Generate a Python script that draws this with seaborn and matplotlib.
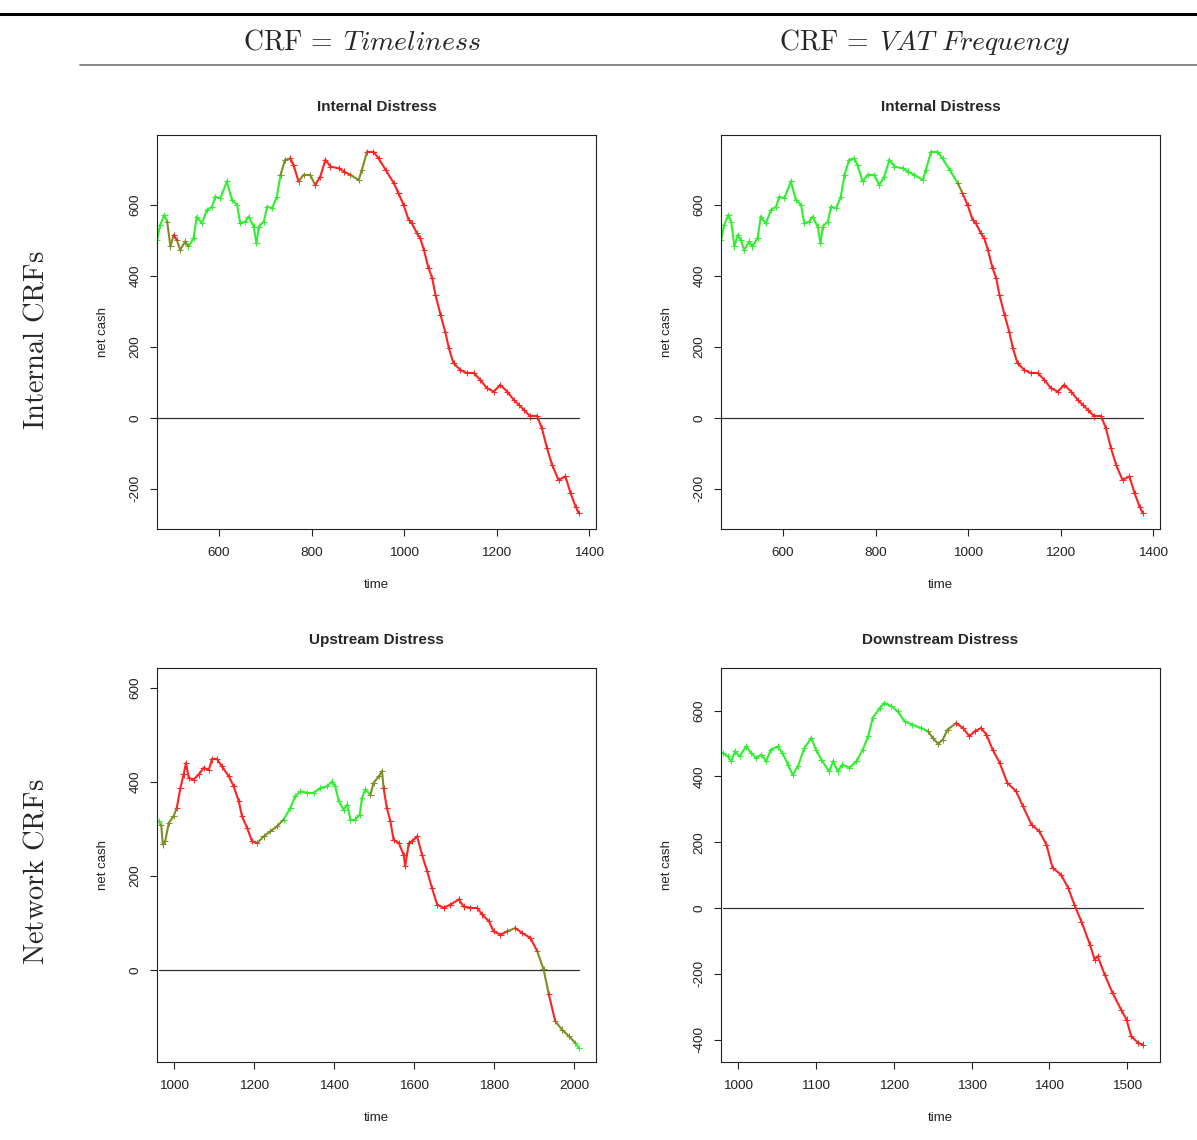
import numpy as np
import pandas as pd
import matplotlib
matplotlib.use("Agg")
import matplotlib.pyplot as plt
from matplotlib.lines import Line2D
import seaborn as sns

# ---- net cash trajectories -------------------------------------------------
# internal-distress firm (shared by both CRF columns)
int_time = [466, 473, 482, 488, 495, 502, 509, 516, 527, 534, 545, 552, 563, 574,
            585, 592, 603, 617, 628, 639, 646, 657, 664, 675, 681, 686, 697, 704,
            715, 725, 733, 743, 754, 761, 772, 783, 797, 808, 819, 830, 841, 859,
            870, 884, 902, 909, 920, 934, 945, 960, 978, 988, 999, 1010, 1017,
            1028, 1035, 1043, 1053, 1061, 1068, 1079, 1089, 1097, 1107, 1122,
            1136, 1151, 1165, 1179, 1194, 1208, 1223, 1237, 1248, 1259, 1273,
            1288, 1298, 1309, 1320, 1334, 1349, 1360, 1371, 1378]
int_cash = [501, 544, 572, 553, 483, 515, 501, 473, 497, 483, 506, 567, 548, 586,
            595, 623, 619, 666, 614, 600, 548, 553, 567, 539, 492, 539, 553, 595,
            591, 623, 685, 727, 731, 713, 666, 685, 685, 656, 680, 727, 708, 703,
            694, 685, 670, 699, 750, 750, 731, 699, 661, 633, 600, 558, 548, 520,
            506, 473, 422, 393, 346, 290, 243, 196, 154, 135, 126, 126, 107, 84,
            74, 93, 74, 51, 37, 23, 4, 4, -29, -85, -132, -175, -165, -212, -250,
            -269]

# upstream-distress firm
up_time = [962, 968, 972, 978, 987, 999, 1007, 1016, 1024, 1030, 1037, 1049, 1062,
           1074, 1087, 1095, 1108, 1120, 1137, 1149, 1162, 1170, 1183, 1195, 1208,
           1224, 1241, 1258, 1274, 1291, 1303, 1316, 1333, 1349, 1366, 1383, 1395,
           1403, 1412, 1424, 1433, 1441, 1453, 1464, 1470, 1478, 1491, 1499, 1512,
           1520, 1524, 1532, 1541, 1549, 1562, 1574, 1578, 1587, 1595, 1608, 1620,
           1633, 1645, 1658, 1674, 1691, 1712, 1724, 1741, 1758, 1770, 1787, 1799,
           1816, 1833, 1853, 1870, 1891, 1908, 1924, 1937, 1953, 1970, 1987, 2003,
           2012]
up_cash = [316, 309, 267, 274, 313, 327, 345, 387, 416, 440, 409, 405, 416, 430,
           426, 448, 448, 433, 412, 391, 359, 327, 302, 274, 270, 284, 295, 306,
           320, 345, 370, 380, 377, 377, 387, 391, 401, 391, 359, 341, 352, 320,
           320, 330, 366, 384, 373, 398, 412, 423, 387, 345, 316, 277, 270, 245,
           221, 270, 274, 284, 245, 210, 174, 139, 132, 139, 150, 135, 132, 132,
           118, 104, 82, 75, 82, 89, 79, 68, 40, 1, -52, -109, -127, -141, -155,
           -166]

# downstream-distress firm
down_time = [980, 987, 991, 996, 1002, 1010, 1017, 1023, 1030, 1036, 1042, 1051,
             1057, 1064, 1070, 1077, 1085, 1094, 1100, 1107, 1117, 1122, 1128,
             1134, 1143, 1152, 1160, 1167, 1173, 1182, 1188, 1197, 1205, 1214,
             1224, 1235, 1244, 1250, 1257, 1263, 1269, 1280, 1289, 1297, 1304,
             1312, 1319, 1327, 1336, 1346, 1357, 1366, 1377, 1387, 1396, 1404,
             1415, 1424, 1432, 1441, 1452, 1458, 1462, 1471, 1481, 1492, 1499,
             1505, 1514, 1520]
down_cash = [471, 461, 446, 476, 461, 491, 471, 456, 466, 446, 481, 491, 471, 436,
             405, 431, 486, 517, 481, 451, 415, 446, 415, 436, 426, 446, 481, 522,
             578, 608, 623, 613, 598, 567, 557, 547, 537, 517, 499, 512, 542, 562,
             547, 522, 537, 547, 527, 481, 441, 380, 355, 309, 253, 233, 193, 122,
             101, 61, 10, -41, -111, -157, -147, -203, -258, -309, -339, -390,
             -410, -415]

# ---- risk classification phases (start time, state) ------------------------
tl_int_start = [0, 488, 497, 507, 530, 733, 750, 765, 805, 880, 918]
tl_int_state = ["safe", "mixed", "risk", "mixed", "safe", "mixed", "risk", "mixed",
                "risk", "mixed", "risk"]
vat_int_start = [0, 963, 985]
vat_int_state = ["safe", "mixed", "risk"]
tl_up_start = [0, 967, 1003, 1205, 1266, 1488, 1523, 1830, 1840, 1905, 1925, 1945, 1990]
tl_up_state = ["safe", "mixed", "risk", "mixed", "safe", "mixed", "risk", "mixed",
               "risk", "mixed", "risk", "mixed", "safe"]
vat_down_start = [0, 1238, 1278]
vat_down_state = ["safe", "mixed", "risk"]

palette = {"safe": "#2ef02e", "mixed": "#808c24", "risk": "#ff2222"}

panel_titles = ["Internal Distress", "Internal Distress",
                "Upstream Distress", "Downstream Distress"]
col_headers = [r"$\mathrm{CRF}\,=\;\mathit{Timeliness}$",
               r"$\mathrm{CRF}\,=\;\mathit{VAT\ Frequency}$"]
row_headers = [r"$\mathrm{Internal\ CRFs}$", r"$\mathrm{Network\ CRFs}$"]


def build_frames(time, cash, starts, states):
    idx = np.searchsorted(starts, time, side="right") - 1
    point_state = [states[i] for i in idx]
    rows = []
    for i in range(len(time) - 1):
        for j in (i, i + 1):
            rows.append((i, time[j], cash[j], point_state[i]))
    segs = pd.DataFrame(rows, columns=["seg", "time", "cash", "state"])
    pts = pd.DataFrame({"time": time, "cash": cash, "state": point_state})
    return segs, pts


sns.set_style("white")
plt.rcParams["font.family"] = ["Liberation Sans", "DejaVu Sans"]
plt.rcParams["mathtext.fontset"] = "cm"
plt.rcParams["axes.unicode_minus"] = False

fig = plt.figure(figsize=(11.97, 11.40), dpi=100)

W, H = 1197, 1140
rects = [(157, 135), (721, 135), (157, 668), (721, 668)]
panels = [
    (int_time, int_cash, tl_int_start, tl_int_state, (466, 1415), (-313, 797),
     range(600, 1401, 200), range(-200, 601, 200)),
    (int_time, int_cash, vat_int_start, vat_int_state, (466, 1415), (-313, 797),
     range(600, 1401, 200), range(-200, 601, 200)),
    (up_time, up_cash, tl_up_start, tl_up_state, (957.5, 2055), (-196, 642.6),
     range(1000, 2001, 200), range(0, 601, 200)),
    (down_time, down_cash, vat_down_start, vat_down_state, (978, 1542), (-468, 729.5),
     range(1000, 1501, 100), range(-400, 601, 200)),
]

for (px, py), title, (t, c, st, ss, xl, yl, xt, yt) in zip(rects, panel_titles, panels):
    ax = fig.add_axes([px / W, 1 - (py + 394) / H, 439 / W, 394 / H])
    segs, pts = build_frames(t, c, st, ss)
    sns.lineplot(data=segs, x="time", y="cash", hue="state", units="seg",
                 estimator=None, sort=False, palette=palette, linewidth=1.5,
                 legend=False, ax=ax)
    sns.scatterplot(data=pts, x="time", y="cash", hue="state", palette=palette,
                    marker="+", s=20, linewidth=0.7, legend=False, ax=ax)
    ax.plot([t[0], t[-1]], [0, 0], color="#333333", lw=0.9, zorder=0)

    ax.set_xlim(*xl)
    ax.set_ylim(*yl)
    ax.set_xticks(list(xt))
    ax.set_yticks(list(yt))
    for s in ax.spines.values():
        s.set_visible(True)
        s.set_color("#222222")
        s.set_linewidth(0.8)
    ax.tick_params(axis="x", pad=8)
    ax.tick_params(axis="y", pad=6)
    ax.tick_params(direction="out", length=5, width=0.8, color="#222222",
                   labelsize=9.7, labelcolor="#222222",
                   left=True, bottom=True)
    plt.setp(ax.get_yticklabels(), rotation=90, va="center")
    ax.set_xlabel("time", fontsize=9.5, color="#222222")
    ax.set_ylabel("net cash", fontsize=9.5, color="#222222")
    ax.xaxis.set_label_coords(0.5, -0.128)
    ax.yaxis.set_label_coords(-0.11, 0.5)
    ax.set_title(title, fontsize=11, fontweight="bold", pad=17.5)

# table-style frame around the grid
fig.add_artist(Line2D([0, 1], [1 - 14 / H, 1 - 14 / H], transform=fig.transFigure,
                      color="black", lw=2.2))
fig.add_artist(Line2D([80 / W, 1], [1 - 65 / H, 1 - 65 / H], transform=fig.transFigure,
                      color="#808080", lw=1.3))

for x, txt in zip([362 / W, 925 / W], col_headers):
    fig.text(x, 1 - 42 / H, txt, fontsize=20, ha="center", va="center")
for y, txt in zip([1 - 340 / H, 1 - 872 / H], row_headers):
    fig.text(37 / W, y, txt, fontsize=20.5, ha="center", va="center", rotation=90)

fig.savefig("out.png", dpi=100)
